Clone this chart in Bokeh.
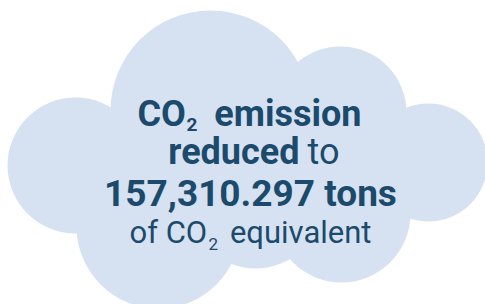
from bokeh.plotting import figure
from bokeh.models import Range1d, ColumnDataSource
from bokeh.core.properties import value
from bokeh.embed import file_html
from bokeh.resources import INLINE

# ---- data ----
cloud_x = [210, 340, 428, 75, 158, 255, 341, 255]
cloud_y = [110, 112, 162, 165, 226, 200, 213, 165]
cloud_r = [100, 66, 59, 68, 82, 68, 69, 90]

seg_text = ["CO", "2", "emission", "reduced", "to", "157,310.297 tons", "of CO", "2", "equivalent"]
seg_bold = [True, True, True, True, False, True, False, False, False]

# ---- layout ----
seg_x = [137, 186, 361, 299, 307, 250, 129, 208, 371]
seg_y = [113, 123.5, 113, 151.5, 151.5, 193, 232, 243, 232]
seg_size = [36, 19, 36, 36, 36, 37, 31, 17, 31]
seg_align = ["left", "left", "right", "right", "left", "center", "left", "left", "right"]

FILL = "#d6e2f2"
INK = "#1b4a6c"

W, H = 485, 304
p = figure(width=W, height=H, output_backend="svg", toolbar_location=None,
           x_range=Range1d(0, W), y_range=Range1d(H, 0),
           min_border=0, outline_line_color=None, background_fill_color="white",
           border_fill_color="white")
p.xaxis.visible = False
p.yaxis.visible = False
p.xgrid.visible = False
p.ygrid.visible = False

p.circle(x="x", y="y", radius="r",
         source=ColumnDataSource(dict(x=cloud_x, y=cloud_y, r=cloud_r)),
         fill_color=FILL, line_color=None)

for t, b, x, y, s, a in zip(seg_text, seg_bold, seg_x, seg_y, seg_size, seg_align):
    p.text(x=[x], y=[y], text=[t], text_font=value("Roboto"),
           text_font_size=value(f"{s}px"),
           text_font_style="bold" if b else "normal",
           text_align=a, text_baseline="alphabetic", text_color=INK)

open("out.html", "w").write(file_html(p, INLINE))
